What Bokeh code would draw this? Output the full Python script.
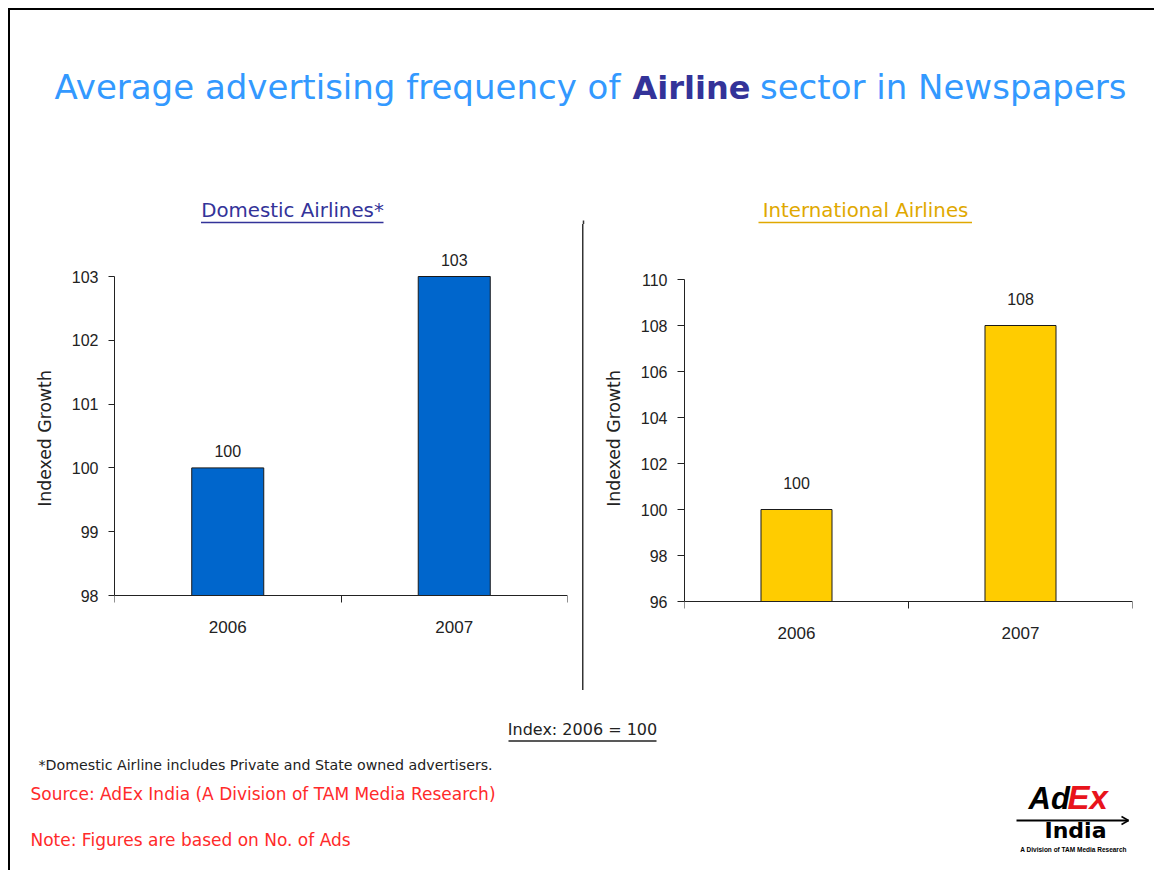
from bokeh.plotting import figure
from bokeh.layouts import column, row
from bokeh.models import Range1d, FixedTicker, ColumnDataSource, LabelSet, Div
from bokeh.core.properties import value
from bokeh.embed import file_html
from bokeh.resources import INLINE

# ---------------- data ----------------
years = ["2006", "2007"]
domestic = [100, 103]
international = [100, 108]
dom_ticks = [98, 99, 100, 101, 102, 103]
int_ticks = [96, 98, 100, 102, 104, 106, 108, 110]

title_parts = ["Average advertising frequency of", "Airline", "sector in Newspapers"]
dom_title = "Domestic Airlines*"
int_title = "International Airlines"
y_label = "Indexed Growth"
index_note = "Index: 2006 = 100"
footnote = "*Domestic Airline includes Private and State owned advertisers."
source_note = "Source: AdEx India (A Division of TAM Media Research)"
note_text = "Note: Figures are based on No. of Ads"
logo_parts = ["Ad", "Ex", "India", "A Division of TAM Media Research"]

TXT = "DejaVu Sans"
NUM = "Liberation Sans"
DARK = "#222222"
BASE_SHIFT = 0.39  # svg text baseline correction (fraction of font size)

# page geometry (pixels)
ROW_Y0, ROW_Y1 = 224, 700
FRAME_TOP, FRAME_BOT = 226, 650
PAGE_BOTTOM = 870


def canvas(x0, x1, y0, y1):
    p = figure(width=int(x1 - x0), height=int(y1 - y0),
               x_range=Range1d(x0, x1), y_range=Range1d(y1, y0),
               output_backend="svg", toolbar_location=None, min_border=0,
               x_axis_type=None, y_axis_type=None)
    p.outline_line_color = None
    return p


def put_text(p, x, base, txt, size, color, font=TXT, style="normal", align="left"):
    p.text(x=[x], y=[base - BASE_SHIFT * size], text=[txt], text_align=align,
           text_baseline="alphabetic", text_font=value(font),
           text_font_size=f"{size}px", text_font_style=style, text_color=color)


def block(w, h, color=None, extra=None):
    styles = {"background-color": color} if color else {}
    if extra:
        styles.update(extra)
    return Div(text="", width=w, height=h, margin=0, styles=styles)


def bar_chart(vals, ticks, color, width, fl, fr, ax_top, ax_bot, bar_w, lab_off, tick_out):
    n = len(years)
    xs = [i + 0.5 for i in range(n)]
    lo, hi = min(ticks), max(ticks)
    ppu = (ax_bot - ax_top) / (hi - lo)
    y_start = lo - (FRAME_BOT - ax_bot) / ppu
    y_end = hi + (ax_top - FRAME_TOP) / ppu
    p = figure(width=width, height=ROW_Y1 - ROW_Y0,
               x_range=Range1d(0, n), y_range=Range1d(y_start, y_end),
               output_backend="svg", toolbar_location=None,
               min_border_left=fl, min_border_right=fr,
               min_border_top=FRAME_TOP - ROW_Y0, min_border_bottom=ROW_Y1 - FRAME_BOT)
    p.outline_line_color = None
    p.xgrid.visible = False
    p.ygrid.visible = False
    src = ColumnDataSource(dict(x=xs, top=vals, label=[str(v) for v in vals]))
    p.vbar(x="x", top="top", bottom=lo, width=bar_w, source=src,
           fill_color=color, line_color="#1a1a1a", line_width=1)
    labels = LabelSet(x="x", y="top", text="label", source=src,
                      text_align="center", text_baseline="bottom", y_offset=lab_off,
                      text_font=value(NUM), text_font_size="16px", text_color=DARK)
    p.add_layout(labels)

    yax = p.yaxis[0]
    yax.ticker = FixedTicker(ticks=ticks)
    yax.bounds = (lo, hi)
    yax.axis_line_color = DARK
    yax.major_tick_line_color = DARK
    yax.major_tick_out = tick_out
    yax.major_tick_in = 0
    yax.minor_tick_line_color = None
    yax.major_label_standoff = 10
    yax.major_label_text_font = NUM
    yax.major_label_text_font_size = "16px"
    yax.major_label_text_color = DARK
    yax.axis_label = y_label
    yax.axis_label_text_font = TXT
    yax.axis_label_text_font_size = "17.3px"
    yax.axis_label_text_font_style = "normal"
    yax.axis_label_text_color = DARK
    yax.axis_label_standoff = 14

    xax = p.xaxis[0]
    xax.fixed_location = lo
    xax.ticker = FixedTicker(ticks=xs, minor_ticks=list(range(n + 1)))
    xax.axis_line_color = DARK
    xax.major_tick_out = 0
    xax.major_tick_in = 0
    xax.minor_tick_line_color = DARK
    xax.minor_tick_out = 7
    xax.minor_tick_in = 0
    xax.major_label_overrides = {x: y for x, y in zip(xs, years)}
    xax.major_label_standoff = 18
    xax.major_label_text_font = NUM
    xax.major_label_text_font_size = "17px"
    xax.major_label_text_color = DARK
    return p


# ---------------- header ----------------
head = canvas(10, 1154, 10, ROW_Y0)
put_text(head, 54, 99.5, title_parts[0], 34, "#3399ff")
put_text(head, 632, 99.5, title_parts[1], 32, "#333399", style="bold")
put_text(head, 1126, 99.5, title_parts[2], 34, "#3399ff", align="right")
put_text(head, 292, 217.5, dom_title, 19.8, "#333399", align="center")
head.segment(x0=[200.5], x1=[383], y0=[222], y1=[222], line_color="#333399", line_width=1.3)
put_text(head, 865, 217.5, int_title, 19.8, "#e0a800", align="center")
head.segment(x0=[758], x1=[971.5], y0=[222], y1=[222], line_color="#e0a800", line_width=1.3)
head.segment(x0=[583], x1=[583], y0=[220], y1=[ROW_Y0], line_color="#333333", line_width=1.5)

# ---------------- charts ----------------
left = bar_chart(domestic, dom_ticks, "#0066cc", 565, 104, 8, 276, 595, 0.318, 11, 6)
divider = block(15, ROW_Y1 - ROW_Y0, extra={
    "background-image": "linear-gradient(#333333, #333333)",
    "background-repeat": "no-repeat",
    "background-size": f"1.5px {690 - ROW_Y0}px",
    "background-position": "7.3px 0px"})
right = bar_chart(international, int_ticks, "#ffcc00", 564, 94, 22, 279, 601, 0.317, 21, 7)

# ---------------- footer ----------------
foot = canvas(10, 1154, ROW_Y1, PAGE_BOTTOM)
put_text(foot, 582, 735.5, index_note, 16, DARK, align="center")
foot.segment(x0=[508], x1=[656], y0=[740.5], y1=[740.5], line_color=DARK, line_width=1.3)
put_text(foot, 38, 770.5, footnote, 14.2, DARK)
put_text(foot, 30, 800.5, source_note, 17, "#ff2a2a")
put_text(foot, 30, 846.5, note_text, 17, "#ff2a2a")
# logo
put_text(foot, 1028, 810, logo_parts[0], 31, "black", font=NUM, style="bold italic")
put_text(foot, 1067, 810, logo_parts[1], 33, "#e8141c", font=NUM, style="bold italic")
foot.segment(x0=[1016], x1=[1128], y0=[820], y1=[820], line_color="black", line_width=2)
foot.segment(x0=[1121, 1121], x1=[1128, 1128], y0=[816, 824], y1=[820, 820],
             line_color="black", line_width=1.5)
put_text(foot, 1075, 839, logo_parts[2], 22, "black", style="bold", align="center")
put_text(foot, 1073, 851.5, logo_parts[3], 6.5, "black", font=NUM, style="bold", align="center")

inner = column(head, row(left, divider, right), foot)
framed = column(block(1146, 2, "black"),
                row(block(2, PAGE_BOTTOM - 10, "black"), inner))
layout = row(block(8, PAGE_BOTTOM), column(block(1146, 8), framed))

open("out.html", "w").write(file_html(layout, INLINE))
